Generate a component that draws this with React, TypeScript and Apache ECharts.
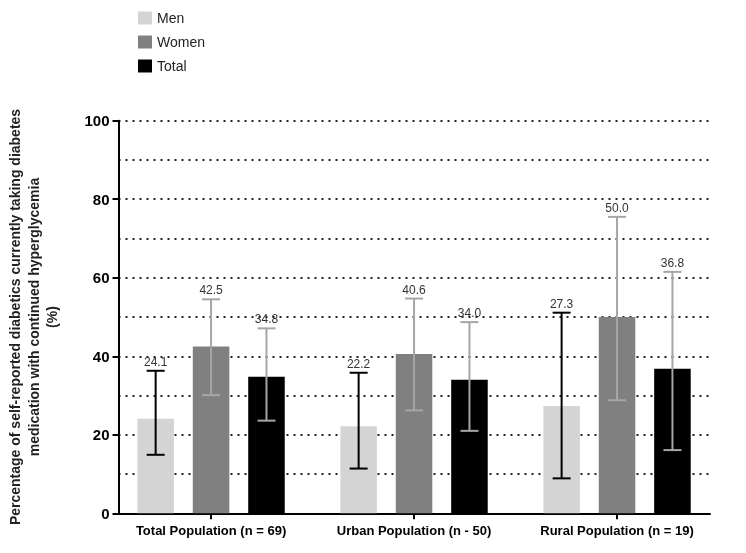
import React, { useEffect, useRef } from "react";
import * as echarts from "echarts";

const categories = ["Total Population (n = 69)", "Urban Population (n - 50)", "Rural Population (n = 19)"];
const seriesNames = ["Men", "Women", "Total"];
const menValues = [24.1, 22.2, 27.3];
const womenValues = [42.5, 40.6, 50.0];
const totalValues = [34.8, 34.0, 36.8];
const menLow = [14.9, 11.4, 8.9];
const menHigh = [36.3, 35.8, 51.1];
const womenLow = [30.1, 26.2, 28.8];
const womenHigh = [54.5, 54.7, 75.5];
const totalLow = [23.6, 21.0, 16.1];
const totalHigh = [47.1, 48.7, 61.5];
const yTicks = [0, 20, 40, 60, 80, 100];

const FONT = "'Liberation Sans', Arial, Helvetica, sans-serif";

export default function App() {
  const ref = useRef<HTMLDivElement>(null);
  useEffect(() => {
    if (!ref.current) return;
    const chart = echarts.init(ref.current, null, { renderer: "svg" });
    const HALF = 0.09;
    const CAP = 9;
    const defs = [
      { name: seriesNames[0], vals: menValues, lo: menLow, hi: menHigh, off: -0.273, fill: "#d4d4d4", err: "#000000" },
      { name: seriesNames[1], vals: womenValues, lo: womenLow, hi: womenHigh, off: 0, fill: "#808080", err: "#a6a6a6" },
      { name: seriesNames[2], vals: totalValues, lo: totalLow, hi: totalHigh, off: 0.273, fill: "#000000", err: "#a6a6a6" },
    ];
    const series = defs.map((d) => ({
      type: "custom",
      name: d.name,
      itemStyle: { color: d.fill },
      data: d.vals.map((v, i) => [i, v, d.lo[i], d.hi[i]]),
      encode: { x: 0, y: [1, 2, 3] },
      renderItem: (params: any, api: any) => {
        const idx = api.value(0);
        const v = api.value(1);
        const lo = api.value(2);
        const hi = api.value(3);
        const cx = idx + d.off;
        const tl = api.coord([cx - HALF, v]);
        const br = api.coord([cx + HALF, 0]);
        const top = api.coord([cx, hi]);
        const bot = api.coord([cx, lo]);
        const ls = { stroke: d.err, lineWidth: 2 };
        return {
          type: "group",
          children: [
            { type: "rect", shape: { x: tl[0], y: tl[1], width: br[0] - tl[0], height: br[1] - tl[1] }, style: { fill: d.fill } },
            { type: "line", shape: { x1: top[0], y1: top[1], x2: bot[0], y2: bot[1] }, style: ls },
            { type: "line", shape: { x1: top[0] - CAP, y1: top[1], x2: top[0] + CAP, y2: top[1] }, style: ls },
            { type: "line", shape: { x1: bot[0] - CAP, y1: bot[1], x2: bot[0] + CAP, y2: bot[1] }, style: ls },
            {
              type: "text",
              style: {
                text: v.toFixed(1),
                x: top[0],
                y: top[1] - 3,
                textAlign: "center",
                textVerticalAlign: "bottom",
                fontSize: 12,
                fontFamily: FONT,
                fill: "#333",
              },
            },
          ],
        };
      },
    }));
    chart.setOption({
      animation: false,
      textStyle: { fontFamily: FONT },
      legend: {
        orient: "vertical",
        left: 133,
        top: 6,
        itemWidth: 14,
        itemHeight: 13,
        itemGap: 10,
        icon: "rect",
        textStyle: { fontSize: 14, color: "#222", fontFamily: FONT },
        data: defs.map((d) => ({ name: d.name, itemStyle: { color: d.fill } })),
      },
      grid: { left: 118.5, right: 36, top: 120.7, bottom: 553 - 513.3, outerBoundsMode: "none", containLabel: false },
      xAxis: {
        type: "value",
        min: -0.456,
        max: 2.458,
        axisLine: { show: true, onZero: false, lineStyle: { color: "#000", width: 2 } },
        axisTick: { show: true, customValues: [0, 1, 2], length: 6, lineStyle: { color: "#000", width: 2 } },
        axisLabel: {
          customValues: [0, 1, 2],
          formatter: (v: number) => categories[Math.round(v)],
          fontSize: 13,
          fontWeight: "bold",
          color: "#000",
          margin: 11,
        },
        splitLine: { show: false },
      },
      yAxis: {
        type: "value",
        min: 0,
        max: 100,
        interval: 20,
        name: "Percentage of self-reported diabetics currently taking diabetes\nmedication with continued hyperglycemia\n(%)",
        nameLocation: "middle",
        nameRotate: 90,
        nameGap: 57,
        nameTextStyle: { fontSize: 14, fontWeight: "bold", color: "#222", lineHeight: 18.5, fontFamily: FONT },
        axisLine: { show: true, onZero: false, lineStyle: { color: "#000", width: 2 } },
        axisTick: { show: true, length: 6, lineStyle: { color: "#000", width: 2 } },
        axisLabel: {
          fontSize: 15,
          fontWeight: "bold",
          color: "#000",
          margin: 9,
          formatter: (v: number) => (yTicks.includes(v) ? String(v) : ""),
        },
        splitLine: { show: true, lineStyle: { color: "#222", width: 2, type: [2, 5] } },
        minorTick: { show: false, splitNumber: 2 },
        minorSplitLine: { show: true, lineStyle: { color: "#222", width: 2, type: [2, 5] } },
      },
      series,
    });
    return () => chart.dispose();
  }, []);
  return <div ref={ref} style={{ position: "fixed", left: 0, top: 0, width: 746, height: 553 }} />;
}
